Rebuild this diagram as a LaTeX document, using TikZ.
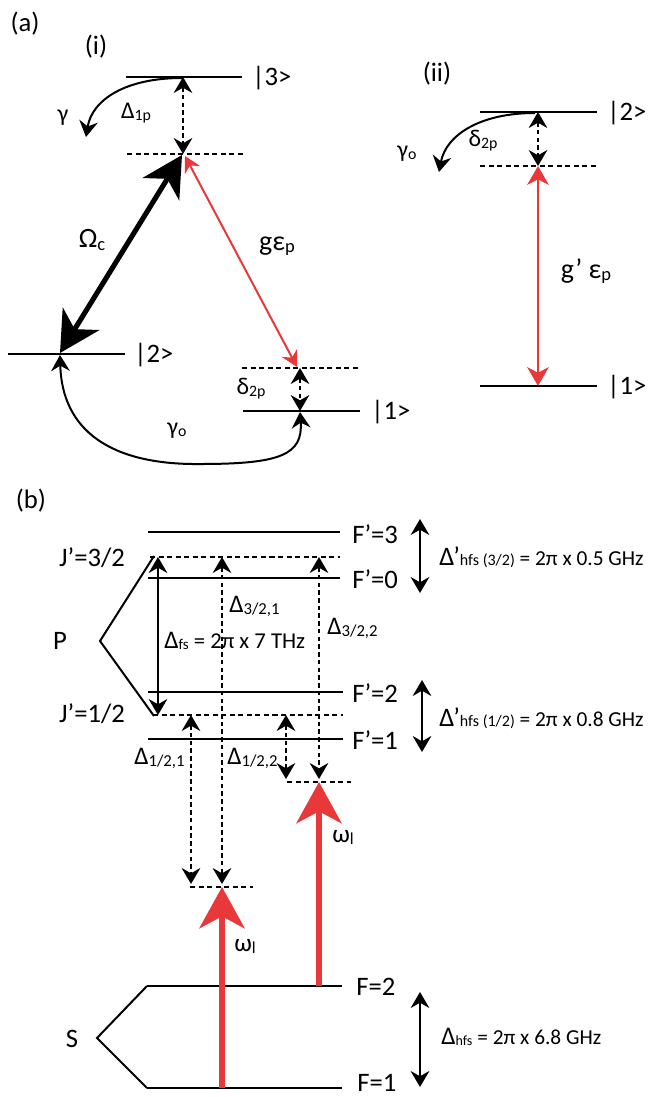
\documentclass[tikz,border=0pt]{standalone}
\usepackage{fontspec}
\setmainfont{Carlito}
\usepackage{graphicx}
\usetikzlibrary{arrows.meta}
\definecolor{lred}{RGB}{232,56,58}
\newcommand{\lo}[1]{\raisebox{-0.08em}{\scalebox{0.66}{#1}}}
\tikzset{
  >={Stealth[length=12pt,width=14pt,inset=4pt]},
  lvl/.style={line width=1.9pt},
  vlvl/.style={line width=1.5pt,dash pattern=on 3.8pt off 2.6pt},
  dsharr/.style={line width=1.4pt,dash pattern=on 3.4pt off 2.4pt,<->},
  curv/.style={line width=1.5pt},
  solarr/.style={line width=1.6pt,<->},
  omega/.style={line width=3.8pt,{Stealth[length=30pt,width=32pt,inset=9pt]}-{Stealth[length=30pt,width=32pt,inset=9pt]}},
  redthin/.style={line width=1.5pt,draw=lred,{Stealth[length=12pt,width=13pt,inset=4pt]}-{Stealth[length=12pt,width=13pt,inset=4pt]},color=lred},
  redmid/.style={line width=2.2pt,draw=lred,{Stealth[length=14pt,width=16pt,inset=4pt]}-{Stealth[length=14pt,width=16pt,inset=4pt]},color=lred},
  redbig/.style={line width=3.8pt,draw=lred,color=lred,-{Stealth[length=31pt,width=34pt,inset=9pt]}},
  plab/.style={inner sep=0pt,font=\fontsize{20}{24}\selectfont},
  ket/.style={inner sep=0pt,anchor=base west,font=\fontsize{20}{24}\selectfont},
  gl/.style={inner sep=0pt,font=\fontsize{18}{21}\selectfont},
  glbig/.style={inner sep=0pt,font=\fontsize{21}{25}\selectfont},
  dl/.style={inner sep=0pt,anchor=west,font=\fontsize{19}{22}\selectfont},
  eqf/.style={inner sep=0pt,anchor=west,font=\fontsize{16}{18}\selectfont},
}
\begin{document}
\begin{tikzpicture}[x=0.75pt,y=-0.75pt]
\useasboundingbox (0,0) rectangle (658,1097);

% ================= (a)(i) =================
\node[plab] (pa) at (25,24) {(a)};
\node[plab] (pi) at (96,47) {(i)};
\coordinate (s3L) at (126,77);  \coordinate (s3R) at (242,77);
\coordinate (v1L) at (127,154); \coordinate (v1R) at (243,154);
\coordinate (s2L) at (8,354);   \coordinate (s2R) at (125,354);
\coordinate (v2L) at (242,368); \coordinate (v2R) at (358,368);
\coordinate (s1L) at (243,411); \coordinate (s1R) at (360,411);
\draw[lvl] (s3L) -- (s3R);
\draw[vlvl] (v1L) -- (v1R);
\draw[lvl] (s2L) -- (s2R);
\draw[vlvl] (v2L) -- (v2R);
\draw[lvl] (s1L) -- (s1R);
\node[ket] (k3) at (252,85) {|3>};
\node[ket] (k2) at (134,362) {|2>};
\node[ket] (k1) at (371,419) {|1>};

\coordinate (d3t) at (183,77); \coordinate (d3b) at (183,154);
\draw[dsharr] (d3t) -- (d3b);
\coordinate (g1s) at (182,78); \coordinate (g1e) at (86,137);
\draw[curv,->] (g1s) .. controls (125,78) and (92,100) .. (g1e);
\node[gl] (lg) at (63,118) {γ};
\node[gl] (ld1) at (136,113) {Δ\lo{1p}};

\coordinate (oT) at (182,155); \coordinate (oB) at (60,353);
\draw[omega] (oT) -- (oB);
\node[gl,font=\fontsize{21}{24}\selectfont] (lom) at (92,240) {Ω\lo{c}};

\coordinate (rT) at (185,156); \coordinate (rB) at (297,367);
\draw[redthin] (rT) -- (rB);
\node[glbig] (lge) at (277,246) {gε\lo{p}};

\coordinate (d2t) at (300,368); \coordinate (d2b) at (300,411);
\draw[dsharr] (d2t) -- (d2b);
\node[gl] (ldel) at (251,389) {δ\lo{2p}};

\coordinate (go1) at (300,412); \coordinate (go2) at (60,355);
\draw[curv,<->] (go1) .. controls (303,455) and (280,464) .. (200,464)
   .. controls (110,465) and (62,430) .. (go2);
\node[gl] (lgo) at (177,431) {γ\lo{o}};

% ================= (a)(ii) =================
\node[plab] (pii) at (437,74) {(ii)};
\coordinate (t2L) at (480,112); \coordinate (t2R) at (597,112);
\coordinate (tvL) at (480,166); \coordinate (tvR) at (597,166);
\coordinate (t1L) at (480,386); \coordinate (t1R) at (597,386);
\draw[lvl] (t2L) -- (t2R);
\draw[vlvl] (tvL) -- (tvR);
\draw[lvl] (t1L) -- (t1R);
\node[ket] (kk2) at (607,120) {|2>};
\node[ket] (kk1) at (607,394) {|1>};
\coordinate (e2t) at (538,112); \coordinate (e2b) at (538,166);
\draw[dsharr] (e2t) -- (e2b);
\coordinate (h1s) at (535,113); \coordinate (h1e) at (439,172);
\draw[curv,->] (h1s) .. controls (480,113) and (446,135) .. (h1e);
\node[gl] (lgo2) at (407,154) {γ\lo{o}};
\node[gl] (ldel2) at (483,141) {δ\lo{2p}};
\coordinate (q1) at (538,166); \coordinate (q2) at (538,386);
\draw[redmid] (q1) -- (q2);
\node[glbig] (lge2) at (586,271) {g’ ε\lo{p}};

% ================= (b) =================
\node[plab] (pb) at (31,501) {(b)};
\coordinate (f3L) at (148,532); \coordinate (f3R) at (340,532);
\coordinate (j3L) at (150,557); \coordinate (j3R) at (340,557);
\coordinate (f0L) at (148,578); \coordinate (f0R) at (340,578);
\coordinate (f2L) at (148,692); \coordinate (f2R) at (343,692);
\coordinate (j1L) at (153,715); \coordinate (j1R) at (343,715);
\coordinate (f1L) at (148,739); \coordinate (f1R) at (343,739);
\draw[lvl] (f3L) -- (f3R);
\draw[vlvl] (j3L) -- (j3R);
\draw[lvl] (f0L) -- (f0R);
\draw[lvl] (f2L) -- (f2R);
\draw[vlvl] (j1L) -- (j1R);
\draw[lvl] (f1L) -- (f1R);
\node[ket] (kf3) at (352,543) {F’=3};
\node[ket] (kf0) at (352,588) {F’=0};
\node[ket] (kf2) at (352,702) {F’=2};
\node[ket] (kf1) at (352,749) {F’=1};
\node[ket,anchor=base] (kj3) at (92,566) {J’=3/2};
\node[ket,anchor=base] (kj1) at (92,722) {J’=1/2};
\node[ket,anchor=base] (kP) at (60,649) {P};
\coordinate (pT) at (154,556); \coordinate (pV) at (100,641); \coordinate (pB) at (154,716);
\draw[curv] (pT) -- (pV) -- (pB);

\coordinate (fsT) at (158,557); \coordinate (fsB) at (158,715);
\draw[solarr] (fsT) -- (fsB);
\node[eqf,font=\fontsize{17}{20}\selectfont] (lfs) at (164,641) {{\fontsize{19}{22}\selectfont Δ}\lo{fs} = 2π x 7 THz};

% lower virtual levels
\coordinate (uL) at (287,782); \coordinate (uR) at (351,782);
\coordinate (wL) at (190,887); \coordinate (wR) at (253,887);
\draw[vlvl] (uL) -- (uR);
\draw[vlvl] (wL) -- (wR);

\coordinate (a1t) at (222,557); \coordinate (a1b) at (222,884);
\coordinate (a2t) at (319,557); \coordinate (a2b) at (319,779);
\coordinate (a3t) at (191,715); \coordinate (a3b) at (191,884);
\coordinate (a4t) at (286,715); \coordinate (a4b) at (286,779);
\draw[dsharr] (a1t) -- (a1b);
\draw[dsharr] (a2t) -- (a2b);
\draw[dsharr] (a3t) -- (a3b);
\draw[dsharr] (a4t) -- (a4b);
\node[dl] (l321) at (229,606) {Δ\lo{3/2,1}};
\node[dl] (l322) at (327,628) {Δ\lo{3/2,2}};
\node[dl] (l121) at (134,758) {Δ\lo{1/2,1}};
\node[dl] (l122) at (227,758) {Δ\lo{1/2,2}};

% ground levels
\coordinate (g2L) at (147,986); \coordinate (g2R) at (342,986);
\coordinate (g1L) at (147,1088); \coordinate (g1R) at (342,1088);
\draw[lvl] (g2L) -- (g2R);
\draw[lvl] (g1L) -- (g1R);
\coordinate (sV) at (97,1038);
\draw[curv] (g2L) -- (sV) -- (g1L);
\node[ket] (kF2) at (356,995) {F=2};
\node[ket] (kF1) at (357,1091) {F=1};
\node[ket,anchor=base] (kS) at (72,1047) {S};

% red laser arrows
\coordinate (r1s) at (222,1088); \coordinate (r1e) at (222,887);
\coordinate (r2s) at (319,986);  \coordinate (r2e) at (319,782);
\draw[redbig] (r1s) -- (r1e);
\draw[redbig] (r2s) -- (r2e);
\node[gl,font=\fontsize{19}{22}\selectfont] (lw1) at (245,946) {ω\lo{l}};
\node[gl,font=\fontsize{19}{22}\selectfont] (lw2) at (343,837) {ω\lo{l}};

% hyperfine splittings
\coordinate (h3t) at (420,519); \coordinate (h3b) at (420,593);
\coordinate (h1t) at (422,680); \coordinate (h1b) at (422,752);
\coordinate (hgt) at (420,992); \coordinate (hgb) at (420,1087);
\draw[solarr] (h3t) -- (h3b);
\draw[solarr] (h1t) -- (h1b);
\draw[solarr] (hgt) -- (hgb);
\node[eqf] (lh3) at (439,557) {{\fontsize{20}{22}\selectfont Δ’}{\fontsize{12}{13}\selectfont hfs (3/2)} = 2π x 0.5 GHz};
\node[eqf] (lh1) at (439,718) {{\fontsize{20}{22}\selectfont Δ’}{\fontsize{12}{13}\selectfont hfs (1/2)} = 2π x 0.8 GHz};
\node[eqf] (lhg) at (441,1037) {{\fontsize{19}{22}\selectfont Δ}\lo{hfs} = 2π x 6.8 GHz};
\end{tikzpicture}
\end{document}
